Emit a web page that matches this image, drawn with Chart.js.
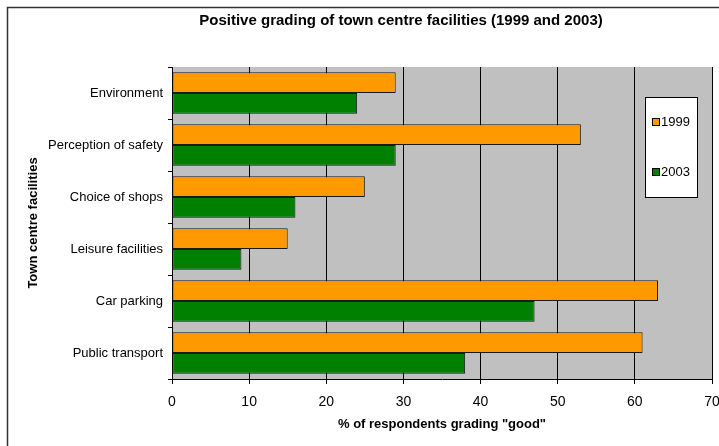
<!DOCTYPE html>
<html>
<head>
<meta charset="utf-8">
<script src="https://cdn.jsdelivr.net/npm/chart.js@4/dist/chart.umd.min.js"></script>
<style>
  html, body { margin: 0; padding: 0; background: #fff; }
  #wrap { width: 719px; height: 446px; position: relative; }
</style>
</head>
<body>
<div id="wrap"><canvas id="facilities_chart" width="719" height="446"></canvas></div>
<script>
// town centre facilities graded "good" (%)
const facilities = ['Environment', 'Perception of safety', 'Choice of shops', 'Leisure facilities', 'Car parking', 'Public transport'];
const years = ['1999', '2003'];
const good1999 = [29, 53, 25, 15, 63, 61];
const good2003 = [24, 29, 16, 9, 47, 38];
const xTicks = [0, 10, 20, 30, 40, 50, 60, 70];

const FONT = "'Liberation Sans', Arial, sans-serif";

// outer frame, title, grey plot background and the boxed legend
const decorations = {
  id: 'decorations',
  beforeDraw(chart) {
    const { ctx, chartArea: a } = chart;
    ctx.save();
    ctx.strokeStyle = '#333';
    ctx.lineWidth = 1.5;
    ctx.strokeRect(7.5, 7.5, 800, 500);
    ctx.fillStyle = '#c0c0c0';
    ctx.fillRect(a.left, a.top, a.right - a.left, a.bottom - a.top);
    ctx.fillStyle = '#000';
    ctx.font = 'bold 15px ' + FONT;
    ctx.textAlign = 'center';
    ctx.textBaseline = 'middle';
    ctx.fillText('Positive grading of town centre facilities (1999 and 2003)', 401, 21);
    ctx.restore();
  },
  afterDraw(chart) {
    const { ctx } = chart;
    ctx.save();
    ctx.fillStyle = '#fff';
    ctx.fillRect(645, 97, 52, 100);
    ctx.strokeStyle = '#000';
    ctx.lineWidth = 1;
    ctx.strokeRect(645.5, 97.5, 52, 100);
    ctx.font = '13px ' + FONT;
    ctx.textBaseline = 'middle';
    ctx.textAlign = 'left';
    chart.data.datasets.forEach((ds, i) => {
      const y = 122 + i * 50;
      ctx.fillStyle = ds.backgroundColor;
      ctx.fillRect(652, y - 4, 7, 7);
      ctx.strokeStyle = '#000';
      ctx.strokeRect(652.5, y - 3.5, 7, 7);
      ctx.fillStyle = '#000';
      ctx.fillText(ds.label, 661, y);
    });
    ctx.restore();
  }
};

const ctx = document.getElementById('facilities_chart').getContext('2d');
new Chart(ctx, {
  type: 'bar',
  data: {
    labels: facilities,
    datasets: [{
      label: years[0],
      data: good1999,
      backgroundColor: '#ff9900',
      borderColor: '#1a1a1a',
      borderWidth: 1,
      borderSkipped: false
    }, {
      label: years[1],
      data: good2003,
      backgroundColor: '#008000',
      borderColor: '#1a1a1a',
      borderWidth: 1,
      borderSkipped: false
    }]
  },
  options: {
    indexAxis: 'y',
    responsive: false,
    animation: false,
    devicePixelRatio: 1,
    layout: { padding: { top: 67, right: 0, left: 0, bottom: 0 } },
    datasets: { bar: { categoryPercentage: 0.8, barPercentage: 1 } },
    plugins: {
      legend: { display: false },
      title: { display: false },
      tooltip: { enabled: false }
    },
    scales: {
      x: {
        min: 0,
        max: 70,
        afterFit(scale) {
          scale.height = 67;
          scale.paddingLeft = 0;
          scale.paddingRight = 7;
        },
        afterBuildTicks(scale) { scale.ticks = xTicks.map(v => ({ value: v })); },
        ticks: { color: '#000', font: { family: FONT, size: 14 }, padding: 10 },
        grid: { color: '#000', lineWidth: 1, tickLength: 5 },
        border: { color: '#000', width: 1 },
        title: {
          display: true,
          text: '% of respondents grading "good"',
          color: '#000',
          font: { family: FONT, size: 13, weight: 'bold' },
          padding: { top: 0, bottom: 14 }
        }
      },
      y: {
        afterFit(scale) { scale.width = 172; },
        ticks: { color: '#000', font: { family: FONT, size: 13 }, padding: 5 },
        grid: { color: '#000', drawOnChartArea: false, tickLength: 4, offset: true },
        border: { color: '#000', width: 1 },
        title: {
          display: true,
          text: 'Town centre facilities',
          color: '#000',
          font: { family: FONT, size: 13, weight: 'bold' },
          padding: { top: 26, bottom: 0 }
        }
      }
    }
  },
  plugins: [decorations]
});
</script>
</body>
</html>
